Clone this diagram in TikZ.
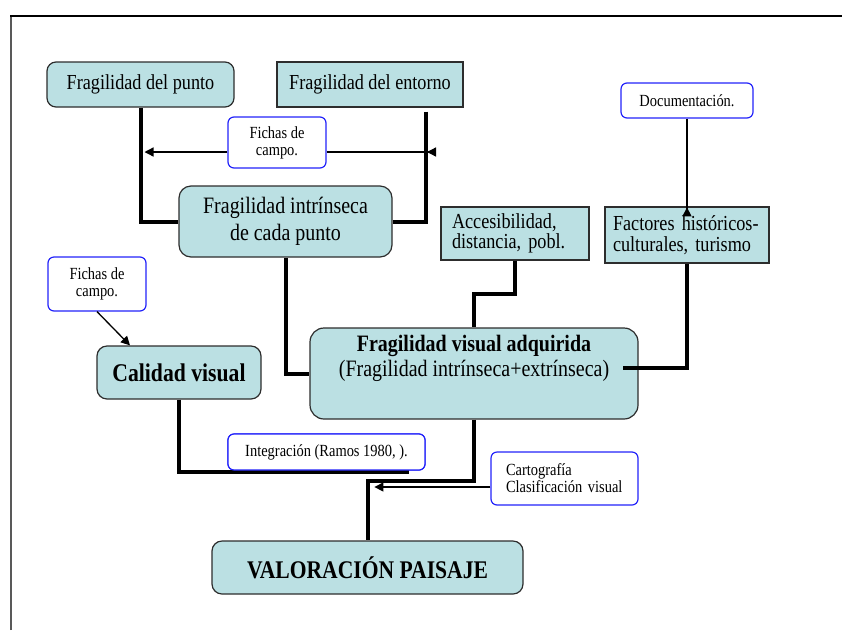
\documentclass[tikz,border=0pt]{standalone}
\usepackage{fontspec}
\setmainfont[FakeStretch=0.85]{Liberation Serif}
\usetikzlibrary{arrows.meta}
\begin{document}
\begin{tikzpicture}[x=1pt,y=-1pt]
  \definecolor{boxfill}{RGB}{187,224,227}
  \definecolor{boxline}{RGB}{45,45,45}
  \definecolor{noteblue}{RGB}{35,35,250}
  \tikzset{
    box/.style={draw=boxline,fill=boxfill,line width=1.2pt,inner sep=0pt},
    rbox/.style={box,rounded corners=9pt},
    note/.style={draw=noteblue,fill=white,rounded corners=6pt,line width=1.2pt,inner sep=0pt,
      font=\fontsize{17}{17}\selectfont,align=center},
    link/.style={line width=4pt},
    pointer/.style={line width=1.3pt,-{Triangle[length=9pt,width=9pt]}},
    backpointer/.style={line width=1.3pt,-{Triangle[length=9pt,width=9pt,reversed]}},
    mid/.style={font=\fontsize{21.4}{20.5}\selectfont},
    big/.style={font=\fontsize{23.5}{27}\selectfont},
  }
  \useasboundingbox (0,0) rectangle (842,630);
  \draw[black!65,line width=2pt] (11,630) -- (11,16);
  \draw[line width=1.5pt] (10,16) -- (842,16);
  % boxes
  \node[rbox,mid,minimum width=187pt,minimum height=45pt] (punto) at (140.5,84.5) {Fragilidad del punto};
  \node[box,mid,minimum width=186pt,minimum height=45pt] (entorno) at (370,84.5) {Fragilidad del entorno};
  \node[note,minimum width=98pt,minimum height=51pt] (fichasT) at (277,142.5) {Fichas de\\campo.};
  \node[rbox,big,rounded corners=12pt,align=center,minimum width=213pt,minimum height=71pt] (intr) at (285.5,221.5) {Fragilidad intrínseca\\de cada punto};
  \node[box,mid,align=left,text width=126pt,minimum width=148pt,minimum height=53pt] (acc) at (515,233.5) {Accesibilidad,\\distancia, pobl.};
  \node[box,mid,align=left,text width=148pt,minimum width=164pt,minimum height=56pt] (fac) at (687,235) {Factores históricos-\\culturales, turismo};
  \node[note,minimum width=132pt,minimum height=35pt] (doc) at (687,100.5) {Documentación.};
  \node[note,minimum width=98pt,minimum height=54pt] (fichasL) at (97,284) {Fichas de\\campo.};
  \node[rbox,rounded corners=10pt,minimum width=164pt,minimum height=53pt,font=\fontsize{25.5}{26}\selectfont\bfseries] (cal) at (179,372.5) {Calidad visual};
  \node[rbox,rounded corners=14pt,minimum width=328pt,minimum height=91pt] (fva) at (474,373.5) {};
  \node[align=center,inner sep=0pt,anchor=north,font=\fontsize{23.5}{25}\selectfont] (fvatxt) at ([yshift=-8pt]fva.north) {\textbf{Fragilidad visual adquirida}\\(Fragilidad intrínseca+extrínseca)};
  % connectors
  \draw[link] (punto.south) |- (intr.west);
  \draw[link] ([xshift=-38pt,yshift=-4pt]entorno.south east) |- (intr.east);
  \draw[pointer] ([yshift=-9.5pt]fichasT.west) -- ([xshift=4pt]punto.south |- 0,152);
  \draw[backpointer] ([yshift=-9.5pt]fichasT.east) -- (436,152);
  \draw[link] (intr.south) |- (fva.west);
  \draw[link] (acc.south) -- ++(0,33) -| (fva.north);
  \draw[link] (fac.south) |- ([xshift=-16pt,yshift=6pt]fva.east);
  \draw[backpointer] (doc.south) -- ([yshift=-10pt]fac.north);
  \draw[pointer] (fichasL.south) -- ([xshift=-49pt]cal.north);
  \node[note,minimum width=197pt,minimum height=36pt] (integ) at (326.5,452) {};
  \draw[link] (cal.south) |- ([xshift=-17pt,yshift=-1pt]integ.south east);
  \node[note,minimum width=197pt,minimum height=36pt] (integ) at (326.5,452) {Integración (Ramos 1980, ).};
  \node[box,rounded corners=10pt,minimum width=311pt,minimum height=53pt,font=\fontsize{25.4}{26}\selectfont\bfseries] (val) at (367.5,567.5) {VALORACIÓN PAISAJE};
  \draw[link] (fva.south) -- ++(0,61) -| (val.north);
  \node[note,align=left,text width=117pt,minimum width=147pt,minimum height=53pt] (cart) at (564.5,478.5) {Cartografía\\Clasificación visual};
  \draw[pointer] ([yshift=-8.5pt]cart.west) -- ++(-116,0);
\end{tikzpicture}
\end{document}
